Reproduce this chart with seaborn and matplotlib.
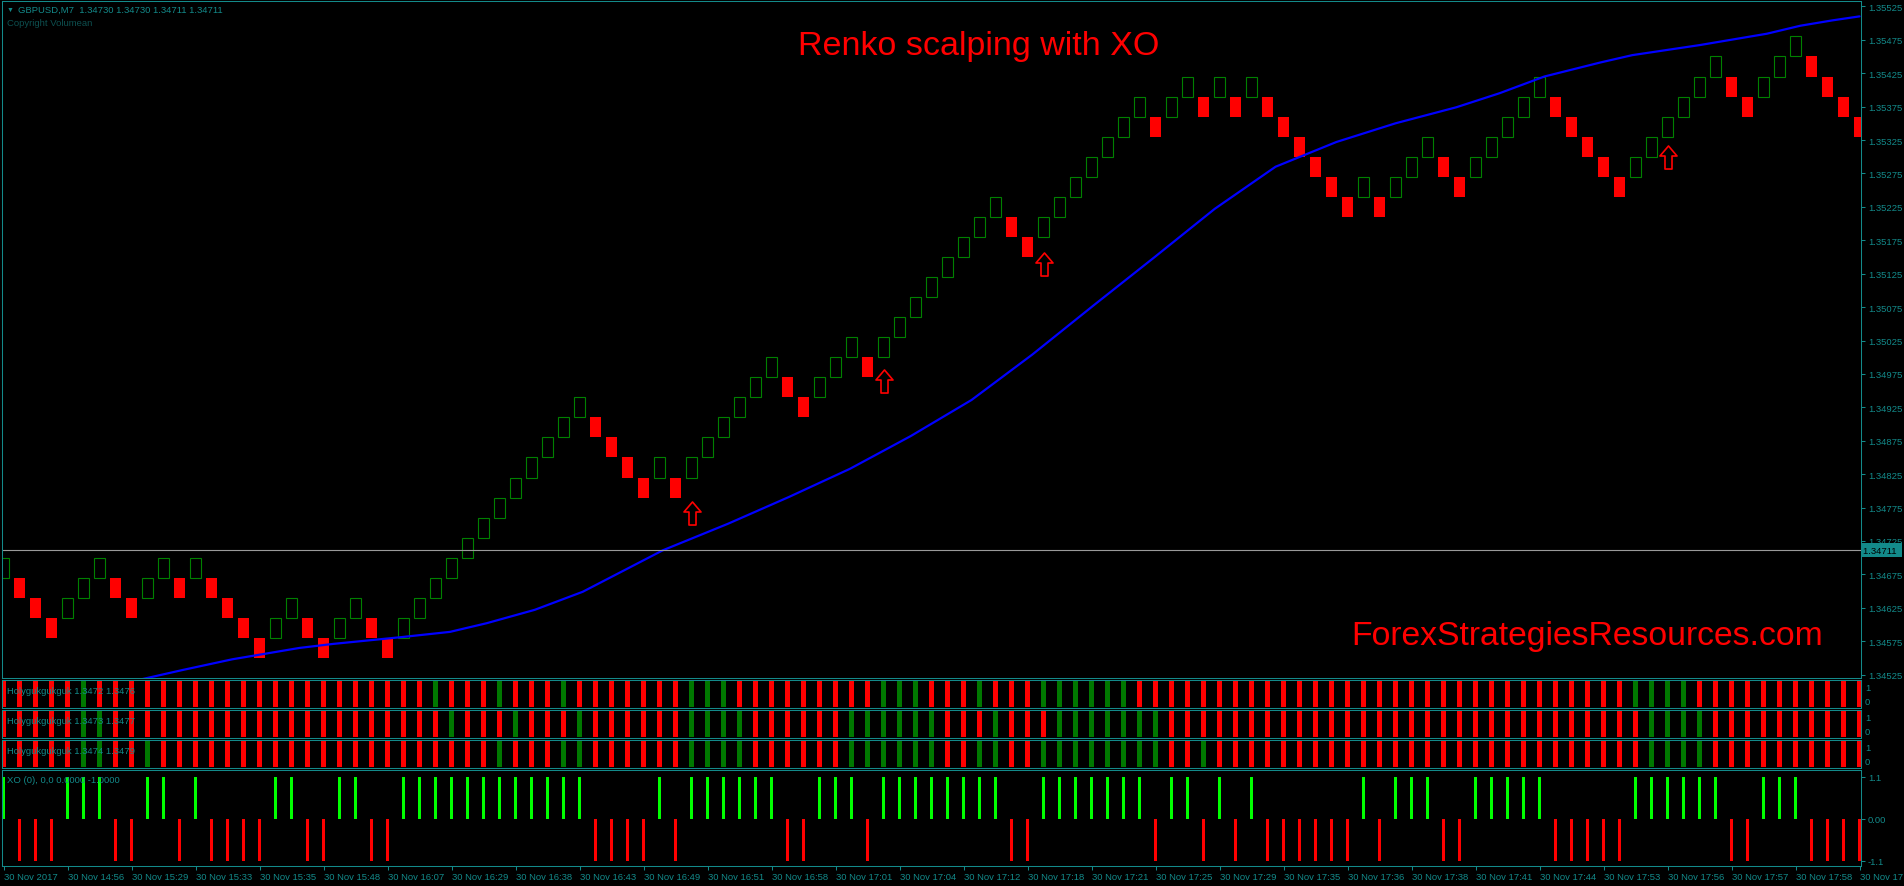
import pandas as pd
import seaborn as sns
import matplotlib.pyplot as plt
import matplotlib.transforms as mtransforms
from matplotlib.path import Path

W, H = 1904, 887
TEAL = "#138a8a"
RED = "#ff0000"
BRICK = 0.0003

# renko bricks (M7 offline chart): low of each brick and its direction
brick_low = [
    1.3467, 1.3464, 1.3461, 1.3458, 1.3461, 1.3464, 1.3467, 1.3464, 1.3461, 1.3464,
    1.3467, 1.3464, 1.3467, 1.3464, 1.3461, 1.3458, 1.3455, 1.3458, 1.3461, 1.3458,
    1.3455, 1.3458, 1.3461, 1.3458, 1.3455, 1.3458, 1.3461, 1.3464, 1.3467, 1.3470,
    1.3473, 1.3476, 1.3479, 1.3482, 1.3485, 1.3488, 1.3491, 1.3488, 1.3485, 1.3482,
    1.3479, 1.3482, 1.3479, 1.3482, 1.3485, 1.3488, 1.3491, 1.3494, 1.3497, 1.3494,
    1.3491, 1.3494, 1.3497, 1.3500, 1.3497, 1.3500, 1.3503, 1.3506, 1.3509, 1.3512,
    1.3515, 1.3518, 1.3521, 1.3518, 1.3515, 1.3518, 1.3521, 1.3524, 1.3527, 1.3530,
    1.3533, 1.3536, 1.3533, 1.3536, 1.3539, 1.3536, 1.3539, 1.3536, 1.3539, 1.3536,
    1.3533, 1.3530, 1.3527, 1.3524, 1.3521, 1.3524, 1.3521, 1.3524, 1.3527, 1.3530,
    1.3527, 1.3524, 1.3527, 1.3530, 1.3533, 1.3536, 1.3539, 1.3536, 1.3533, 1.3530,
    1.3527, 1.3524, 1.3527, 1.3530, 1.3533, 1.3536, 1.3539, 1.3542, 1.3539, 1.3536,
    1.3539, 1.3542, 1.3545, 1.3542, 1.3539, 1.3536, 1.3533,
]
brick_dir = list(
    "UDDDUUUDDU" "UDUDDDDUUD" "DUUDDUUUUU" "UUUUUUUDDD" "DUDUUUUUUD"
    "DUUUDUUUUU" "UUUDDUUUUU" "UUDUUDUDUD" "DDDDDUDUUU" "DDUUUUUDDD"
    "DDUUUUUUDD" "UUUDDDD"
)

# Holygukgukguk histograms: bricks where the bar is green (others red)
holy1_green = [5, 27, 31, 35, 43, 44, 45, 55, 56, 57, 61, 65, 66, 67, 68, 69, 70,
               102, 103, 104, 105]
holy2_green = [5, 6, 28, 32, 36, 43, 44, 45, 46, 53, 54, 55, 56, 57, 58, 62,
               66, 67, 68, 69, 70, 71, 72, 103, 104, 105, 106]
holy3_green = [5, 6, 9, 31, 35, 36, 43, 44, 45, 46, 53, 54, 55, 56, 57, 58, 61, 62,
               65, 66, 67, 68, 69, 70, 71, 72, 75, 103, 104, 105, 106]
holy_labels = ["Holygukgukguk 1.3472 1.3476", "Holygukgukguk 1.3473 1.3477",
               "Holygukgukguk 1.3474 1.3479"]

# moving average (blue), read at brick positions
ma_idx = [7.5, 11.2, 14.3, 18.5, 20.6, 24.8, 27.9, 30.2, 33.2, 36.2, 41.2, 45.3,
          49.1, 52.9, 56.7, 60.5, 64.3, 68.1, 71.9, 75.7, 79.5, 83.3, 87.0, 90.8,
          93.5, 96.3, 99.8, 101.8, 106.0, 110.2, 112.3, 114.3, 116.0]
ma_price = [1.34512, 1.34532, 1.34548, 1.34565, 1.34571, 1.34581, 1.34589, 1.34602,
            1.34622, 1.34649, 1.34711, 1.34751, 1.34791, 1.34833, 1.34882, 1.34936,
            1.35004, 1.35077, 1.35149, 1.35222, 1.35285, 1.35322, 1.35350, 1.35374,
            1.35395, 1.35420, 1.35441, 1.35452, 1.35467, 1.35484, 1.35496, 1.35504,
            1.35510]

# XO buy arrows
arrow_idx = [43, 55, 65, 104]
arrow_price = [1.34767, 1.34964, 1.35140, 1.35300]

last_price = 1.34711
price_ticks = [1.35525, 1.35475, 1.35425, 1.35375, 1.35325, 1.35275, 1.35225,
               1.35175, 1.35125, 1.35075, 1.35025, 1.34975, 1.34925, 1.34875,
               1.34825, 1.34775, 1.34725, 1.34675, 1.34625, 1.34575, 1.34525]
time_labels = ["30 Nov 2017", "30 Nov 14:56", "30 Nov 15:29", "30 Nov 15:33",
               "30 Nov 15:35", "30 Nov 15:48", "30 Nov 16:07", "30 Nov 16:29",
               "30 Nov 16:38", "30 Nov 16:43", "30 Nov 16:49", "30 Nov 16:51",
               "30 Nov 16:58", "30 Nov 17:01", "30 Nov 17:04", "30 Nov 17:12",
               "30 Nov 17:18", "30 Nov 17:21", "30 Nov 17:25", "30 Nov 17:29",
               "30 Nov 17:35", "30 Nov 17:36", "30 Nov 17:38", "30 Nov 17:41",
               "30 Nov 17:44", "30 Nov 17:53", "30 Nov 17:56", "30 Nov 17:57",
               "30 Nov 17:58", "30 Nov 17:59"]


def fx(px):
    return px / W


def fy(py):
    return 1 - py / H


sns.set_theme(style="dark", rc={"figure.facecolor": "black", "axes.facecolor": "black",
                                "savefig.facecolor": "black"})
plt.rcParams["font.family"] = ["Liberation Sans", "DejaVu Sans"]

fig = plt.figure(figsize=(W / 100, H / 100), dpi=100)
n = len(brick_low)
idx = list(range(n))


def panel(top, bottom):
    ax = fig.add_axes([fx(2), fy(bottom), fx(1861) - fx(2), fy(top) - fy(bottom)])
    for s in ax.spines.values():
        s.set_visible(True)
        s.set_color(TEAL)
        s.set_linewidth(0.75)
    ax.grid(False)
    ax.set_xticks([])
    ax.set_yticks([])
    return ax


ax = panel(2, 679)
holy_axes = [panel(681, 709), panel(711, 739), panel(741, 769)]
ax_xo = panel(771, 867)

# ---- main renko chart
up = [d == "U" for d in brick_dir]
ax.bar([i for i in idx if up[i]], BRICK, bottom=[b for b, u in zip(brick_low, up) if u],
       width=0.68, facecolor="none", edgecolor="#008000", linewidth=0.8)
ax.bar([i for i in idx if not up[i]], BRICK, bottom=[b for b, u in zip(brick_low, up) if not u],
       width=0.68, facecolor=RED, edgecolor="none", linewidth=0)
sns.lineplot(x=ma_idx, y=ma_price, ax=ax, color="#0000ff", linewidth=1.6)
ax.axhline(last_price, color="#9a9a9a", linewidth=0.8)

arrow_path = Path([(0, 11.5), (8.5, 1.5), (3.5, 1.5), (3.5, -11.5), (-3.5, -11.5),
                   (-3.5, 1.5), (-8.5, 1.5), (0, 11.5)],
                  [Path.MOVETO] + [Path.LINETO] * 6 + [Path.CLOSEPOLY])
ax.plot(arrow_idx, arrow_price, linestyle="none", marker=arrow_path, markersize=16.6,
        markerfacecolor="none", markeredgecolor=RED, markeredgewidth=1.2)

ax.set_ylim(1.34520, 1.35533)
ax.set_yticks(price_ticks)
ax.set_yticklabels([f"{p:.5f}" for p in price_ticks])
ax.yaxis.tick_right()
ax.tick_params(axis="y", right=True, left=False, labelright=True, labelleft=False,
               colors=TEAL, length=3, width=0.75, direction="out", labelsize=6.8, pad=2)
ax.set_xlabel("")
ax.set_ylabel("")

blend = mtransforms.blended_transform_factory(ax.transAxes, ax.transData)
ax.text(1.0012, last_price, "1.34711 ", transform=blend, color="black", fontsize=6.8,
        ha="left", va="center",
        bbox=dict(boxstyle="square,pad=0.25", facecolor=TEAL, edgecolor="none"))

# ---- Holygukgukguk panels
for hax, greens, label in zip(holy_axes, [holy1_green, holy2_green, holy3_green], holy_labels):
    df = pd.DataFrame({"i": idx, "v": [1] * n,
                       "c": ["g" if i in greens else "r" for i in idx]})
    sns.barplot(data=df, x="i", y="v", hue="c", palette={"g": "#007800", "r": RED},
                native_scale=True, dodge=False, width=0.33, errorbar=None,
                saturation=1, linewidth=0, legend=False, ax=hax)
    hax.set_ylim(-0.04, 1.04)
    hax.set_xticks([])
    hax.set_yticks([])
    hax.set_xlabel("")
    hax.set_ylabel("")
    hax.text(0.0029, 0.64, label, transform=hax.transAxes, color=TEAL, fontsize=6.8,
             ha="left", va="center")
    hax.text(1.0022, 0.73, "1", transform=hax.transAxes, color=TEAL, fontsize=6.8,
             ha="left", va="center", clip_on=False)
    hax.text(1.0022, 0.23, "0", transform=hax.transAxes, color=TEAL, fontsize=6.8,
             ha="left", va="center", clip_on=False)

# ---- XO panel
xo = pd.DataFrame({"i": idx, "v": [1.1 if u else -1.1 for u in up],
                   "c": ["u" if u else "d" for u in up]})
sns.barplot(data=xo, x="i", y="v", hue="c", palette={"u": "#00ff00", "d": RED},
            native_scale=True, dodge=False, width=0.17, errorbar=None,
            saturation=1, linewidth=0, legend=False, ax=ax_xo)
ax_xo.set_ylim(-1.24, 1.27)
ax_xo.set_xlabel("")
ax_xo.set_ylabel("")
ax_xo.set_yticks([1.1, 0.0, -1.1])
ax_xo.set_yticklabels(["1.1", "0.00", "-1.1"])
ax_xo.yaxis.tick_right()
ax_xo.tick_params(axis="y", right=True, left=False, labelright=True, labelleft=False,
                  colors=TEAL, length=3, width=0.75, direction="out", labelsize=6.8, pad=2)
ax_xo.set_xticks(list(range(0, n, 4)))
ax_xo.set_xticklabels(time_labels)
ax_xo.tick_params(axis="x", bottom=True, labelbottom=True, colors=TEAL, length=3,
                  width=0.75, direction="out", labelsize=6.8, pad=1.4)
for lbl in ax_xo.get_xticklabels():
    lbl.set_horizontalalignment("left")
ax_xo.text(0.0029, 0.9, "XO (0), 0,0 0.0000 -1.0000", transform=ax_xo.transAxes,
           color=TEAL, fontsize=6.8, ha="left", va="center")

for a in [ax, ax_xo] + holy_axes:
    a.set_xlim(-0.094, 116.09)

# ---- header and captions
fig.text(fx(7), fy(10), "\u25bc", color=TEAL, fontsize=5, ha="left", va="center")
fig.text(fx(18), fy(10), "GBPUSD,M7  1.34730 1.34730 1.34711 1.34711", color=TEAL,
         fontsize=6.8, ha="left", va="center")
fig.text(fx(7), fy(24), "Copyright Volumean", color="#0d4f4f", fontsize=6.8,
         ha="left", va="center")
fig.text(fx(978.7), fy(54.6), "Renko scalping with XO", color=RED, fontsize=24.5,
         ha="center", va="baseline")
fig.text(fx(1351.5), fy(644.8), "ForexStrategiesResources.com", color=RED,
         fontsize=24.3, ha="left", va="baseline")

fig.savefig("out.png", dpi=100, facecolor="black")
